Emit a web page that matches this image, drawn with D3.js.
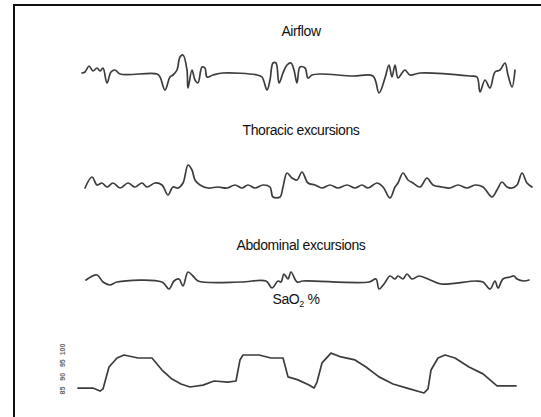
<!DOCTYPE html>
<html>
<head>
<meta charset="utf-8">
<script src="https://cdn.jsdelivr.net/npm/d3@7/dist/d3.min.js"></script>
<style>
  html, body { margin: 0; padding: 0; background: #fff; }
  svg { display: block; }
  .title { font-family: "Liberation Sans", Arial, sans-serif; font-size: 14px; fill: #111; letter-spacing: -0.4px; }
  .tick text { font-family: "Liberation Sans", Arial, sans-serif; font-size: 7px; fill: #666; font-weight: bold; }
</style>
</head>
<body>
<svg id="chart" width="541" height="417"></svg>
<script>
// ---- Data (time in samples, amplitudes in arbitrary units, SaO2 in %) ----
const airflow = [
  [7,1],[10,2],[14,8],[18,3],[22,6],[25,3],[28,6],[32,-9],[36,2],[40,4],[45,0],
  [82,0],[85,-3],[90,-16],[95,-3],[98,-1],[102,4],[105,17],[108,19],[112,4],[113,-14],
  [117,4],[120,-6],[123,-9],[127,7],[130,6],[132,-3],[138,-1],[148,1],
  [182,-1],[187,-3],[192,-16],[195,-6],[198,11],[201,11],[204,-9],[208,1],[212,9],
  [216,11],[219,4],[222,-9],[225,7],[230,6],[233,-4],[237,-1],[245,0],
  [278,-2],[298,-2],[304,-19],[310,-4],[314,9],[317,-3],[320,9],[323,-4],[327,1],
  [330,4],[335,-1],[345,1],[395,-2],[402,-3],[405,-18],[410,-6],[415,-14],[420,2],
  [425,4],[430,11],[433,-1],[437,-13],[440,4]
];
const thoracic = [
  [10,-2],[17,9],[22,1],[27,3],[32,-1],[38,3],[45,-2],[53,3],[60,-1],[67,3],[72,-1],
  [80,3],[87,1],[93,-9],[98,-1],[103,-2],[108,3],[113,21],[117,16],[120,6],[125,1],
  [133,-2],[143,-1],[152,-2],[160,1],[167,-2],[173,1],[180,-2],[188,1],[195,-1],
  [198,-11],[205,-11],[208,-1],[212,13],[217,8],[222,6],[227,14],[233,3],[240,1],
  [247,-2],[255,1],[263,-2],[272,1],[280,-2],[287,1],[293,-2],[302,3],[308,-1],
  [315,-12],[320,-1],[323,3],[328,13],[333,6],[338,3],[345,-1],[352,8],[358,1],
  [367,-1],[375,-2],[383,1],[392,-2],[400,1],[408,-1],[417,-11],[422,-4],[427,4],
  [432,-1],[437,-2],[442,1],[447,13],[452,3],[457,-1]
];
const abdominal = [
  [11,1],[22,6],[28,-1],[35,-4],[42,-1],[87,-1],[94,-8],[99,0],[104,2],[108,-5],
  [113,9],[118,5],[123,0],[166,-1],[191,0],[197,-7],[203,0],[206,-1],[209,7],[213,2],
  [216,9],[222,-1],[228,0],[294,-1],[301,2],[304,-8],[309,-3],[315,5],[320,2],[323,5],
  [328,2],[332,7],[337,2],[344,5],[353,2],[366,-3],[401,0],[408,-1],[415,-8],[420,0],
  [423,-7],[428,2],[435,4],[439,5],[442,2],[449,0],[454,1]
];
const sao2 = [
  [3,85.7],[18,85.7],[25,84.6],[28,85.4],[34,93.4],[42,96.7],[49,97.8],[63,96.7],
  [77,96.7],[87,92.3],[97,89.0],[106,87.2],[115,86.1],[128,86.8],[139,88.3],[153,87.9],
  [161,88.3],[165,96.0],[168,97.8],[184,97.8],[196,96.7],[208,96.7],[213,89.8],
  [223,88.7],[234,86.8],[239,85.7],[242,87.9],[247,94.9],[256,98.5],[266,97.1],
  [280,96.0],[291,93.4],[304,89.8],[318,87.2],[332,85.7],[349,83.9],[353,85.4],
  [356,92.3],[363,96.7],[370,97.8],[380,96.7],[394,93.4],[408,90.9],[422,86.5],[441,86.5]
];
const sao2Ticks = [85, 90, 95, 100];
const channelTitles = ["Airflow", "Thoracic excursions", "Abdominal excursions"];

// ---- Layout ----
const svg = d3.select("#chart");
const x = d3.scaleLinear().domain([0, 460]).range([75, 535]);

// frame
svg.append("path")
  .attr("d", "M14,417V5H541")
  .attr("fill", "none").attr("stroke", "#111").attr("stroke-width", 2);

const lineStyle = sel => sel.attr("fill", "none").attr("stroke", "#3c3c3c")
  .attr("stroke-width", 1.7).attr("stroke-linejoin", "round").attr("stroke-linecap", "round");

const channels = [
  { data: airflow, base: 74, title: channelTitles[0], ty: 36 },
  { data: thoracic, base: 186, title: channelTitles[1], ty: 135 },
  { data: abdominal, base: 281, title: channelTitles[2], ty: 250 }
];

channels.forEach(ch => {
  const y = d3.scaleLinear().domain([-20, 20]).range([ch.base + 20, ch.base - 20]);
  const line = d3.line().curve(d3.curveCatmullRom.alpha(0.5)).x(d => x(d[0])).y(d => y(d[1]));
  svg.append("path").datum(ch.data).attr("d", line).call(lineStyle);
  svg.append("text").attr("class", "title")
    .attr("x", 301).attr("y", ch.ty).attr("text-anchor", "middle").text(ch.title);
});

// SaO2
const ys = d3.scaleLinear().domain([85, 100]).range([390, 349]);
const sLine = d3.line().x(d => x(d[0])).y(d => ys(d[1]));
svg.append("path").datum(sao2).attr("d", sLine).call(lineStyle);

const st = svg.append("text").attr("class", "title")
  .attr("x", 296).attr("y", 304).attr("text-anchor", "middle");
st.append("tspan").text("SaO");
st.append("tspan").attr("font-size", "9px").attr("dy", 3).text("2");
st.append("tspan").attr("dy", -3).text(" %");

const axis = d3.axisLeft(ys).tickValues(sao2Ticks).tickSize(0).tickPadding(0);
const ag = svg.append("g").attr("transform", "translate(66,0)").call(axis);
ag.select(".domain").remove();
ag.selectAll(".tick text")
  .attr("x", null).attr("y", null)
  .attr("text-anchor", "middle")
  .attr("dy", "0.35em")
  .attr("transform", "translate(-3,0) rotate(-90)");
</script>
</body>
</html>
